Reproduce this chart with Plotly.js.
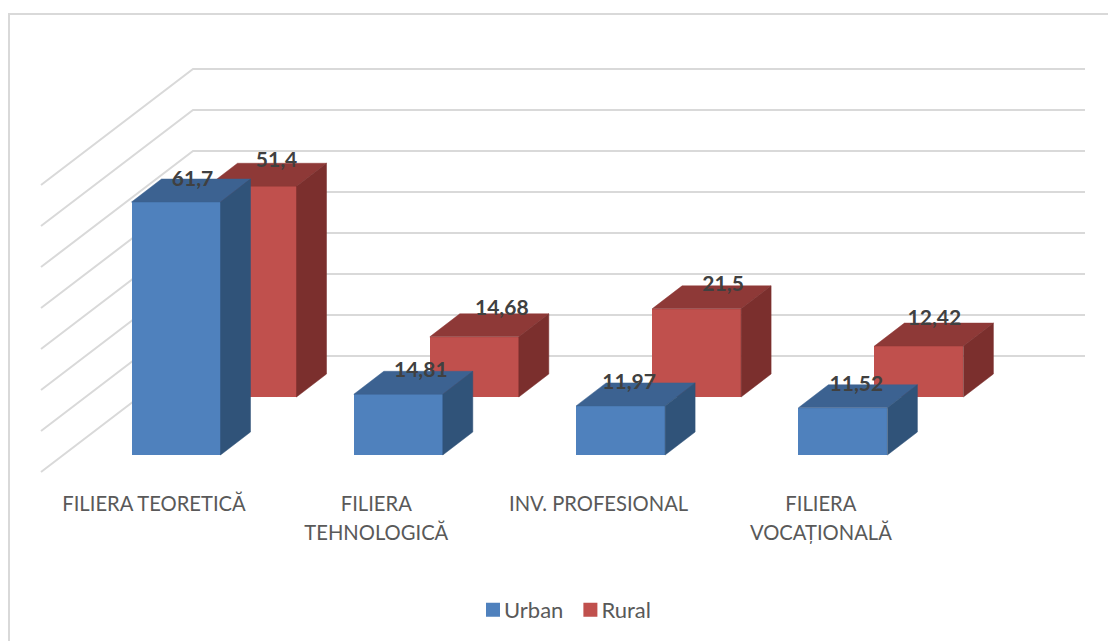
<!DOCTYPE html>
<html><head><meta charset="utf-8">
<script src="https://cdn.plot.ly/plotly-3.0.1.min.js"></script>
<style>html,body{margin:0;padding:0;background:#fff}</style></head>
<body><div id="chart" style="width:1108px;height:641px"></div>
<script>
// ---- data ----
const categories = ['FILIERA TEORETICĂ','FILIERA<br>TEHNOLOGICĂ','INV. PROFESIONAL','FILIERA<br>VOCAȚIONALĂ'];
const urban = [61.7,14.81,11.97,11.52];
const rural = [51.4,14.68,21.5,12.42];
const gridValues = [0,10,20,30,40,50,60,70];

// ---- chart geometry, in px of the page ----
const W = 1108, H = 641;
const pitch = 222.3, originX = 176;      // x px of category 0 centre
const pxPerUnit = 4.1, zeroY = 356;      // y px of value 0 on the back wall
const sx = p => (p - originX) / pitch;
const lenX = l => l / pitch;
const lenY = l => l / pxPerUnit;
const xRange = [sx(0), sx(W)];
const yRange = [(zeroY - H) / pxPerUnit, zeroY / pxPerUnit];

const barW = lenX(89), depthX = lenX(30), depthY = lenY(23);
const floorUrban = -lenY(99), floorRural = -lenY(41);
const ruralShift = lenX(76);

// wall grid
const wallL = sx(41), wallC = sx(193), wallR = sx(1085), wallDrop = lenY(116);
const gridX = [], gridY = [];
gridValues.forEach(v => { gridX.push(wallL, wallC, wallR, null); gridY.push(v - wallDrop, v, v, null); });

const traces = [{
  type:'scatter', mode:'lines', x:gridX, y:gridY, xaxis:'x', yaxis:'y',
  line:{color:'#d9d9d9', width:2}, showlegend:false, hoverinfo:'skip'
}];

function addSeries(name, values, floor, shift, axX, axY, cFront, cTop, cSide) {
  const xs = values.map((_, i) => i + shift);
  const topX = [], topY = [], sideX = [], sideY = [];
  values.forEach((v, i) => {
    const l = xs[i] - barW/2, r = xs[i] + barW/2, t = floor + v;
    topX.push(l, r, r + depthX, l + depthX, l, null);
    topY.push(t, t, t + depthY, t + depthY, t, null);
    sideX.push(r, r + depthX, r + depthX, r, r, null);
    sideY.push(t, t + depthY, floor + depthY, floor, t, null);
  });
  traces.push({type:'bar', name, x:xs, y:values, base:values.map(() => floor), width:barW,
    xaxis:axX, yaxis:axY, marker:{color:cFront, line:{width:0}}, hoverinfo:'y', showlegend:false});
  traces.push({type:'scatter', mode:'lines', x:topX, y:topY, fill:'toself', fillcolor:cTop,
    line:{color:cTop, width:0.5}, xaxis:axX, yaxis:axY, showlegend:false, hoverinfo:'skip'});
  traces.push({type:'scatter', mode:'lines', x:sideX, y:sideY, fill:'toself', fillcolor:cSide,
    line:{color:cSide, width:0.5}, xaxis:axX, yaxis:axY, showlegend:false, hoverinfo:'skip'});
}
addSeries('Urban', urban, floorUrban, 0, 'x3', 'y3', '#4F81BD', '#3C6291', '#305379');
addSeries('Rural', rural, floorRural, ruralShift, 'x2', 'y2', '#C0504D', '#8E3937', '#7B2F2D');

// data labels: small per-label nudges off the bar's back top-left corner
const urbanNudgeX = [61, 67, 53, 58], urbanNudgeY = [1.5, 0.5, 0.5, 0.5];
const ruralNudgeX = [69, 72, 71, 60], ruralNudgeY = [-2, -4, 0, -3];
const fmt = v => String(v).replace('.', ',');
function labelTrace(values, floor, shift, nx, ny) {
  return {type:'scatter', mode:'text', xaxis:'x3', yaxis:'y3', showlegend:false, hoverinfo:'skip',
    x: values.map((_, i) => i + shift - barW/2 + lenX(nx[i])),
    y: values.map((v, i) => floor + v + depthY - lenY(ny[i])),
    text: values.map(fmt), textposition:'middle center',
    textfont:{family:'Lato, sans-serif', size:21, color:'#404040', weight:700}};
}
traces.push(labelTrace(rural, floorRural, ruralShift, ruralNudgeX, ruralNudgeY));
traces.push(labelTrace(urban, floorUrban, 0, urbanNudgeX, urbanNudgeY));

// legend keys: carry the swatch border that sizes the key squares
[['Urban','#4F81BD'],['Rural','#C0504D']].forEach(([name,c]) => traces.push({
  type:'bar', name, x:[0], y:[null], xaxis:'x3', yaxis:'y3', hoverinfo:'skip',
  marker:{color:c, line:{color:c, width:2}}
}));

// line spacing of the wrapped labels comes from the outer font size
const tickText = categories.map(c => c.split('<br>').map(s => '<span style="font-size:20.2px">' + s + '</span>').join('<br>'));

const hidden = {range:xRange, visible:false, fixedrange:true};
const hiddenY = {range:yRange, visible:false, fixedrange:true};
const layout = {
  width:W, height:H, margin:{l:0,r:0,t:0,b:0}, paper_bgcolor:'#fff', plot_bgcolor:'rgba(0,0,0,0)',
  barmode:'overlay', bargap:0,
  font:{family:'Lato, sans-serif', color:'#595959'},
  xaxis:{range:xRange, tickmode:'array',
    tickvals:categories.map((_, i) => i - lenX(22)), ticktext:tickText,
    showgrid:false, zeroline:false, showline:false, ticks:'', side:'bottom', tickangle:0,
    anchor:'free', position:1 - 488/H, tickfont:{family:'Lato, sans-serif', size:22.3, color:'#595959'}, fixedrange:true},
  yaxis:{range:yRange, visible:false, fixedrange:true},
  xaxis2:Object.assign({overlaying:'x', anchor:'y2'}, hidden),
  yaxis2:Object.assign({overlaying:'y', anchor:'x2'}, hiddenY),
  xaxis3:Object.assign({overlaying:'x', anchor:'y3'}, hidden),
  yaxis3:Object.assign({overlaying:'y', anchor:'x3'}, hiddenY),
  showlegend:true,
  legend:{orientation:'h', x:473/W, xanchor:'left', y:1-610/H, yanchor:'middle',
    font:{family:'Lato, sans-serif', size:22, color:'#595959'}, bgcolor:'rgba(0,0,0,0)', traceorder:'normal',
    itemwidth:30},
  shapes:[{type:'rect', xref:'paper', yref:'paper', x0:9/W, x1:1.05, y0:-0.05, y1:1-14/H,
    line:{color:'#d9d9d9', width:2}, fillcolor:'rgba(0,0,0,0)', layer:'below'}]
};
Plotly.newPlot('chart', traces, layout, {displayModeBar:false, responsive:false}).then(() => {
  // tighten the gap between legend key and legend text, and between the two legend items
  document.querySelectorAll('.legend .legendtext').forEach(t => {
    t.setAttribute('x', parseFloat(t.getAttribute('x')) - 9);
  });
  const items = document.querySelectorAll('.legend .traces');
  const second = items[items.length - 1];
  const m = /translate\(([-\d.]+)[ ,]+([-\d.]+)\)/.exec(second.getAttribute('transform') || '');
  if (m) second.setAttribute('transform', 'translate(' + (parseFloat(m[1]) - 7) + ',' + m[2] + ')');
});
</script></body></html>
